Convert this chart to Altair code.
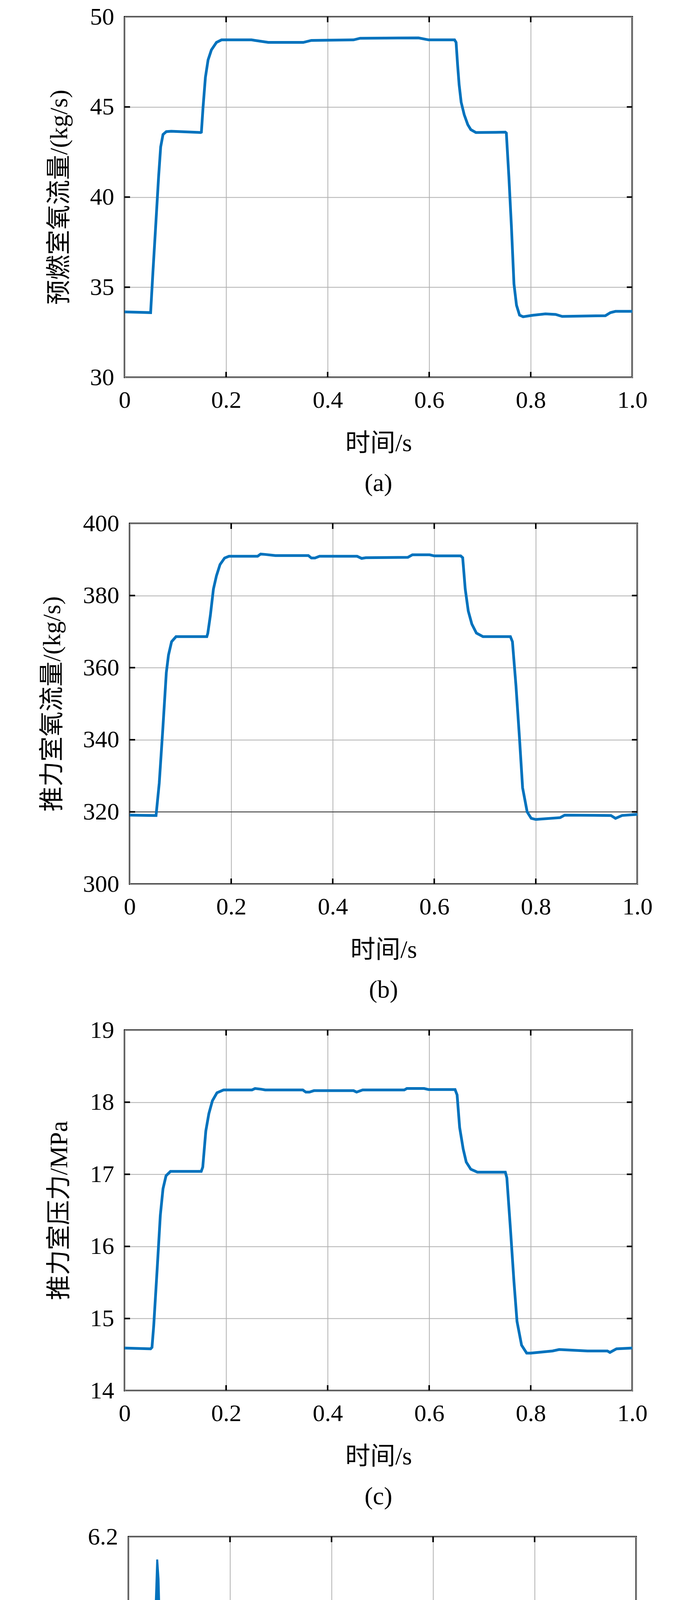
import altair as alt
import pandas as pd

FONT = "Liberation Serif, Noto Sans CJK SC"
BLUE = "#0072BD"
W, H = 1300, 923
TICK = 14

x_ticks = [0, 0.2, 0.4, 0.6, 0.8, 1.0]

# (a) 预燃室氧流量
t_a = [0, 0.030, 0.0513, 0.0559, 0.0612, 0.067, 0.0711, 0.0757, 0.0822, 0.092, 0.150,
       0.1513, 0.1546, 0.1592, 0.1645, 0.171, 0.181, 0.191, 0.250, 0.257, 0.283, 0.352,
       0.368, 0.451, 0.464, 0.579, 0.599, 0.650, 0.653, 0.656, 0.659, 0.663, 0.669,
       0.676, 0.682, 0.692, 0.750, 0.752, 0.757, 0.762, 0.767, 0.772, 0.778, 0.785,
       0.803, 0.829, 0.849, 0.862, 0.947, 0.957, 0.967, 1.0]
v_a = [33.63, 33.61, 33.59, 35.87, 38.36, 41.12, 42.78, 43.47, 43.63, 43.65, 43.58,
       43.6, 44.99, 46.64, 47.61, 48.16, 48.58, 48.72, 48.72, 48.69, 48.58, 48.58,
       48.69, 48.72, 48.81, 48.83, 48.72, 48.72, 48.58, 47.33, 46.23, 45.26, 44.57,
       44.02, 43.74, 43.58, 43.6, 43.55, 41.12, 38.36, 35.18, 34.0, 33.45, 33.36,
       33.44, 33.52, 33.49, 33.38, 33.42, 33.59, 33.66, 33.66]
ya_ticks = [30, 35, 40, 45, 50]

# (b) 推力室氧流量
t_b = [0, 0.0496, 0.052, 0.0583, 0.0652, 0.0722, 0.0765, 0.0826, 0.0913, 0.152,
       0.1539, 0.159, 0.165, 0.171, 0.178, 0.187, 0.1957, 0.252, 0.258, 0.267, 0.287,
       0.352, 0.358, 0.365, 0.374, 0.448, 0.457, 0.465, 0.548, 0.557, 0.591, 0.600,
       0.652, 0.656, 0.661, 0.667, 0.674, 0.683, 0.696, 0.750, 0.754, 0.761, 0.768,
       0.774, 0.783, 0.791, 0.800, 0.848, 0.857, 0.948, 0.957, 0.970, 1.0]
v_b = [319.1, 319.0, 319.0, 328.0, 342.7, 358.6, 363.5, 367.2, 368.6, 368.6,
       369.5, 374.5, 381.8, 385.5, 388.6, 390.4, 390.9, 390.9, 391.5, 391.4, 391.1,
       391.1, 390.4, 390.4, 390.9, 390.9, 390.3, 390.5, 390.6, 391.3, 391.3, 391.0,
       391.0, 390.5, 381.8, 375.7, 372.1, 369.6, 368.6, 368.6, 367.2, 354.9, 340.2,
       326.7, 320.0, 318.2, 317.9, 318.4, 319.1, 319.0, 318.2, 319.0, 319.3]
yb_ticks = [300, 320, 340, 360, 380, 400]
yb_ref = [320]

# (c) 推力室压力
t_c = [0, 0.0513, 0.054, 0.0574, 0.0643, 0.0704, 0.0757, 0.0817, 0.0904, 0.151,
       0.154, 0.160, 0.166, 0.173, 0.182, 0.195, 0.251, 0.257, 0.269, 0.277, 0.351,
       0.357, 0.364, 0.373, 0.451, 0.457, 0.469, 0.551, 0.556, 0.590, 0.599, 0.651,
       0.655, 0.660, 0.667, 0.673, 0.682, 0.695, 0.750, 0.753, 0.760, 0.767, 0.773,
       0.782, 0.792, 0.800, 0.843, 0.856, 0.912, 0.951, 0.956, 0.969, 1.0]
v_c = [14.59, 14.58, 14.60, 14.90, 15.70, 16.43, 16.80, 16.98, 17.04, 17.04,
       17.10, 17.60, 17.84, 18.02, 18.13, 18.17, 18.17, 18.19, 18.18, 18.17, 18.17,
       18.14, 18.14, 18.16, 18.16, 18.14, 18.17, 18.17, 18.19, 18.19, 18.175, 18.175,
       18.10, 17.65, 17.35, 17.17, 17.07, 17.03, 17.03, 16.95, 16.25, 15.51, 14.96,
       14.63, 14.52, 14.52, 14.55, 14.57, 14.55, 14.55, 14.53, 14.58, 14.59]
yc_ticks = [14, 15, 16, 17, 18, 19]

# (d) 推力室混合比 (upper / lower envelope of the oscillating trace)
t_d = [0, 0.0493, 0.0526, 0.0566, 0.0592, 0.0625, 0.0678, 0.073, 0.0776, 0.0822,
       0.0888, 0.092, 0.1515, 0.1546, 0.158, 0.163, 0.168, 0.174, 0.185, 0.250,
       0.263, 0.352, 0.362, 0.451, 0.460, 0.553, 0.559, 0.651, 0.6565, 0.662, 0.668,
       0.750, 0.753, 0.757, 0.762, 0.7697, 0.776, 0.786, 0.796, 0.803, 0.852, 0.859,
       0.953, 0.964, 1.0]
hi_d = [6.052, 6.055, 6.130, 6.181, 6.165, 6.110, 6.035, 5.962, 6.002, 6.025,
        6.045, 6.049, 6.049, 6.110, 6.090, 6.060, 6.045, 6.042, 6.047, 6.051,
        6.074, 6.074, 6.054, 6.054, 6.029, 6.029, 6.052, 6.053, 5.985, 6.035, 6.057,
        6.047, 6.000, 5.935, 5.990, 6.100, 6.110, 6.090, 6.060, 6.052, 6.052, 6.092,
        6.091, 6.049, 6.048]
lo_d = [6.028, 6.035, 6.090, 6.160, 6.140, 6.090, 6.025, 5.957, 5.990, 6.005,
        6.025, 6.031, 6.031, 6.095, 6.070, 6.040, 6.025, 6.021, 6.027, 6.033,
        6.052, 6.052, 6.030, 6.030, 6.007, 6.007, 6.031, 6.031, 5.980, 6.020, 6.036,
        6.030, 5.980, 5.932, 5.980, 6.090, 6.098, 6.060, 6.030, 6.027, 6.027, 6.066,
        6.066, 6.025, 6.025]
yd_ticks = [5.9, 6.0, 6.1, 6.2]

X_LABEL_EXPR = "datum.value == 0 ? '0' : format(datum.value, '.1f')"


def panel(main_layers, ydom, yticks, yfmt, ytitle, caption):
    xs = alt.Scale(domain=[0, 1], nice=False, zero=False)
    ys = alt.Scale(domain=ydom, nice=False, zero=False)
    xaxis = alt.Axis(values=x_ticks, labelExpr=X_LABEL_EXPR, title="时间/s",
                     labelFlush=False, labelOverlap=False, labelPadding=28,
                     titlePadding=48)
    yaxis = alt.Axis(values=yticks, format=yfmt, title=ytitle, labelPadding=27,
                     titlePadding=46, labelOverlap=False)
    X = alt.X("t:Q", scale=xs, axis=xaxis)
    layers = [m(X, ys, yaxis) for m in main_layers]
    inner_x = pd.DataFrame({"t": x_ticks[1:-1]})
    inner_y = pd.DataFrame({"v": yticks[1:-1]})
    Yv = alt.Y("v:Q", scale=ys, axis=yaxis)
    rule = dict(color="black", strokeWidth=4)
    layers += [
        alt.Chart(inner_x).mark_rule(**rule).encode(x=X, y=alt.value(H), y2=alt.value(H - TICK)),
        alt.Chart(inner_x).mark_rule(**rule).encode(x=X, y=alt.value(0), y2=alt.value(TICK)),
        alt.Chart(inner_y).mark_rule(**rule).encode(y=Yv, x=alt.value(0), x2=alt.value(TICK)),
        alt.Chart(inner_y).mark_rule(**rule).encode(y=Yv, x=alt.value(W), x2=alt.value(W - TICK)),
    ]
    return alt.layer(*layers).properties(
        width=W, height=H,
        title=alt.TitleParams(caption, orient="bottom", anchor="middle", frame="group",
                              font=FONT, fontSize=64, fontWeight="normal", color="black",
                              offset=39),
    )


def line_layer(t, v):
    df = pd.DataFrame({"t": t, "v": v})
    def make(X, ys, yaxis):
        return alt.Chart(df).mark_line(color=BLUE, strokeWidth=7).encode(
            x=X, y=alt.Y("v:Q", scale=ys, axis=yaxis))
    return make


def band_layer(t, hi, lo):
    df = pd.DataFrame({"t": t, "hi": hi, "lo": lo})
    def make(X, ys, yaxis):
        return alt.Chart(df).mark_area(color=BLUE, stroke=BLUE, strokeWidth=5,
                                       opacity=1).encode(
            x=X, y=alt.Y("hi:Q", scale=ys, axis=yaxis), y2="lo:Q")
    return make


def ref_layer(vals):
    df = pd.DataFrame({"v": vals})
    def make(X, ys, yaxis):
        return alt.Chart(df).mark_rule(color="#333333", strokeWidth=2).encode(
            y=alt.Y("v:Q", scale=ys, axis=yaxis))
    return make


def spacer(w):
    return alt.Chart(pd.DataFrame({"s": [0]})).mark_point(size=1, opacity=0).encode(
        x=alt.value(0), y=alt.value(0)
    ).properties(width=w, height=1,
                 view=alt.ViewBackground(stroke="transparent", strokeWidth=0))


pa = panel([line_layer(t_a, v_a)], [30, 50], ya_ticks, "d", "预燃室氧流量/(kg/s)", "(a)")
pb = panel([ref_layer(yb_ref), line_layer(t_b, v_b)], [300, 400], yb_ticks, "d",
           "推力室氧流量/(kg/s)", "(b)")
pc = panel([line_layer(t_c, v_c)], [14, 19], yc_ticks, "d", "推力室压力/MPa", "(c)")
pd_ = panel([band_layer(t_d, hi_d, lo_d)], [5.9, 6.2], yd_ticks, ".1f", "推力室混合比", "(d)")

rows = [
    alt.hconcat(spacer(19), pa, spacing=0),
    alt.hconcat(spacer(1), pb, spacing=0),
    alt.hconcat(spacer(19), pc, spacing=0),
    alt.hconcat(spacer(13), pd_, spacing=0),
]

chart = alt.vconcat(*rows, spacing=35).properties(
    padding={"left": 90, "top": 2, "right": 10, "bottom": 0}
).configure_view(
    stroke="black", strokeWidth=4
).configure_axis(
    labelFont=FONT, labelFontSize=62, labelColor="black",
    titleFont=FONT, titleFontSize=64, titleFontWeight="normal", titleColor="black",
    gridColor="#b0b0b0", gridWidth=2, domain=False, ticks=False, tickSize=0,
)

chart.save("out.html", embed_options={"renderer": "svg", "actions": False})
